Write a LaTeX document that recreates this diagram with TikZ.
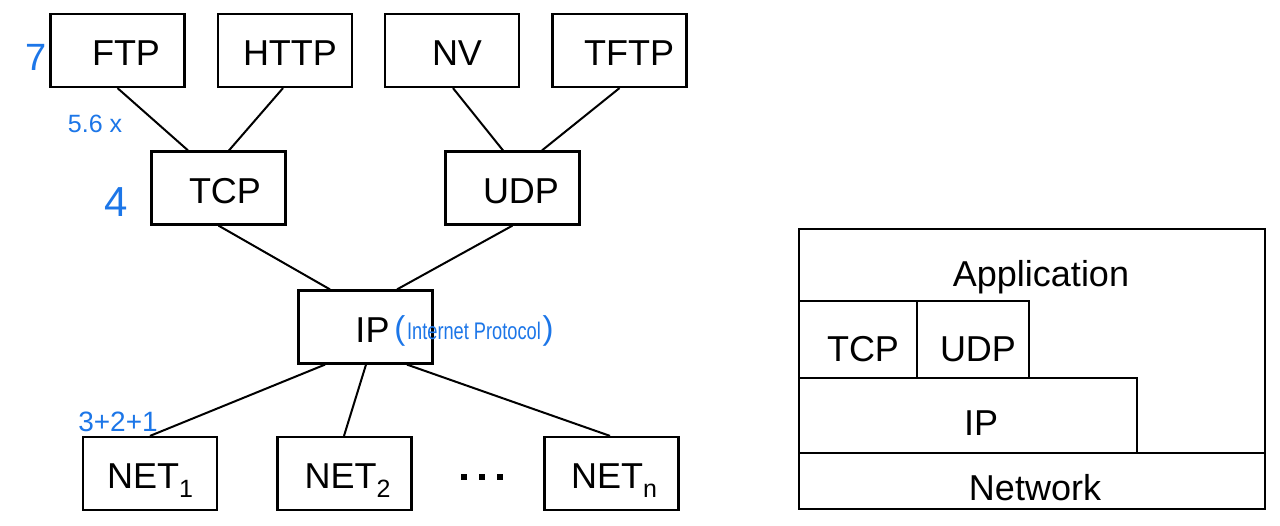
\documentclass[tikz,border=0pt]{standalone}
\usepackage{fontspec}
\setmainfont{Liberation Sans}
\definecolor{pen}{RGB}{28,118,232}
\newcommand{\subidx}[1]{\raisebox{-9pt}{\fontsize{25}{25}\selectfont #1}}
\begin{document}
\begin{tikzpicture}[x=1pt,y=-1pt,
  box/.style={draw,line width=2.2pt,minimum width=134pt,minimum height=73pt,inner sep=0pt,
    text height=30pt,text depth=0pt,font=\fontsize{36}{40}\selectfont},
  wire/.style={line width=2pt},
  layer/.style={line width=2.4pt},
  ltxt/.style={anchor=base,inner sep=0pt,font=\fontsize{36}{40}\selectfont},
  note/.style={text=pen,inner sep=0pt}]
\useasboundingbox[fill=white] (0,0) rectangle (1280,525);
% left tree
\node[box] (FTP)  at (117.5,50.5) {\hspace*{17pt}FTP};
\node[box] (HTTP) at (285,50.5)   {\hspace*{10pt}HTTP};
\node[box] (NV)   at (452,50.5)   {\hspace*{10pt}NV};
\node[box] (TFTP) at (619.5,50.5) {\hspace*{19pt}TFTP};
\node[box] (TCP)  at (218.5,188)  {\hspace*{13pt}TCP};
\node[box] (UDP)  at (512.5,188)  {\hspace*{17pt}UDP};
\node[box] (IP)   at (365.5,327)  {\hspace*{14pt}IP};
\node[box] (NET1) at (150,473.5)  {NET\subidx{1}};
\node[box] (NET2) at (344.5,473.5){\hspace*{6pt}NET\subidx{2}};
\node[box] (NETn) at (611.5,473.5){\hspace*{5pt}NET\subidx{n}};
\draw[wire] (FTP.south) -- ([xshift=-30.5pt]TCP.north);
\draw[wire] ([xshift=-2pt]HTTP.south) -- ([xshift=10.5pt]TCP.north);
\draw[wire] ([xshift=1pt]NV.south) -- ([xshift=-9.5pt]UDP.north);
\draw[wire] (TFTP.south) -- ([xshift=29.5pt]UDP.north);
\draw[wire] (TCP.south) -- ([xshift=-35.5pt]IP.north);
\draw[wire] (UDP.south) -- ([xshift=31.5pt]IP.north);
\draw[wire] ([xshift=-40.5pt]IP.south) -- (NET1.north);
\draw[wire] ([xshift=0.5pt]IP.south) -- ([xshift=-0.5pt]NET2.north);
\draw[wire] ([xshift=41.5pt]IP.south) -- ([xshift=-1.5pt]NETn.north);
\foreach \x in {464,482,500} \fill (\x-2.8,477-2.8) rectangle (\x+2.8,477+2.8);
% annotations
\node[note,font=\fontsize{38}{40}\selectfont] (n7) at (36,57) {7};
\node[note,font=\fontsize{25}{28}\selectfont] (n56) at (95,124) {5.6 x};
\node[note,font=\fontsize{42}{44}\selectfont] (n4) at (116,202) {4};
\node[note] (nip) at (474,331) {{\fontsize{33}{34}\selectfont(}\,\scalebox{0.76}[1]{\fontsize{24}{26}\selectfont Internet Protocol}\,{\fontsize{33}{34}\selectfont)}};
\node[note,font=\fontsize{28}{30}\selectfont] (n321) at (118,422) {3+2+1};
% right stack
\draw[layer] (799,229) rectangle (1265,509);
\draw[layer] (799,301) -- (1029,301) -- (1029,378);
\draw[layer] (917,301) -- (917,378);
\draw[layer] (799,378) -- (1137,378) -- (1137,453);
\draw[layer] (799,453) -- (1265,453);
\node[ltxt] (sApp) at (1041,286) {Application};
\node[ltxt] (sTCP) at (863,361) {TCP};
\node[ltxt] (sUDP) at (978,361) {UDP};
\node[ltxt] (sIP)  at (981,435) {IP};
\node[ltxt] (sNet) at (1035,500) {Network};
\end{tikzpicture}
\end{document}
